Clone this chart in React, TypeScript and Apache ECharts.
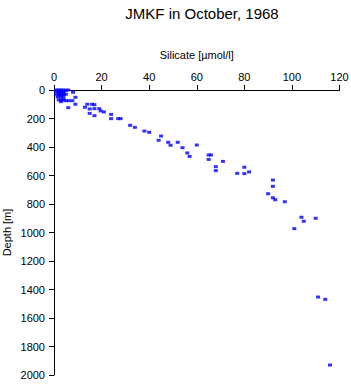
import React, { useEffect, useRef } from "react";
import * as echarts from "echarts";

const titleText = "JMKF in October, 1968";
const xName = "Silicate [µmol/l]";
const yName = "Depth [m]";

// silicate values [µmol/l]
const silicate: number[] = [
  1, 2, 3, 4, 5, 1, 2, 3, 4, 2, 3, 4, 1, 2, 3, 4, 5, 2, 3, 4, 1.5, 3, 4, 2, 3, 4, 5, 6, 8, 9, 7.7, 6.2, 9, 6, 3,
  14, 13, 16, 17, 15, 15, 17, 17, 19, 19.6, 21, 24, 24, 27, 28, 32, 34, 38, 40,
  45, 44, 48, 49, 52, 54, 56, 57, 60, 65, 66, 65, 68, 68, 71, 77, 80, 80, 82,
  92, 92, 90, 92, 93, 97, 104, 105, 110, 101, 111, 114, 116,
];
// depth values [m]
const depth: number[] = [
  0, 0, 0, 0, 2, 10, 10, 10, 10, 20, 20, 20, 30, 30, 30, 30, 30, 40, 40, 40, 50, 50, 60, 70, 70, 70, 75, 0, 16, 51, 75, 75, 100, 124, 82,
  100, 121, 100, 103, 133, 164, 131, 180, 131, 147, 154, 171, 201, 201, 201, 248, 262, 288, 297,
  323, 353, 367, 388, 367, 405, 442, 466, 386, 456, 456, 487, 538, 566, 501, 585, 542, 587, 575,
  632, 676, 728, 756, 770, 784, 893, 921, 900, 973, 1453, 1469, 1930,
];

const xTicks = { min: 0, max: 120, interval: 20 };
const yTicks = { min: 0, max: 2000, interval: 200 };

export default function App() {
  const ref = useRef<HTMLDivElement>(null);
  useEffect(() => {
    document.body.style.margin = "0";
    const chart = echarts.init(ref.current!, null, { renderer: "svg" });
    const font = "'Liberation Sans', Arial, Helvetica, sans-serif";
    const data = silicate.map((v, i) => [v, depth[i]]);
    chart.setOption({
      animation: false,
      backgroundColor: "#ffffff",
      title: {
        text: titleText,
        left: 197,
        top: 1,
        textAlign: "center",
        textStyle: { fontFamily: font, fontSize: 15, fontWeight: "normal", color: "#000" },
      },
      grid: { left: 54, top: 90, width: 285.5, height: 285, containLabel: false, outerBoundsMode: "none" },
      xAxis: {
        type: "value",
        position: "top",
        min: xTicks.min,
        max: xTicks.max,
        interval: xTicks.interval,
        name: xName,
        nameLocation: "middle",
        nameGap: 30,
        nameMoveOverlap: false,
        nameTextStyle: { fontFamily: font, fontSize: 11, color: "#000" },
        axisLine: { show: true, onZero: false, lineStyle: { color: "#000", width: 1 } },
        axisTick: { show: true, length: 5, lineStyle: { color: "#000" } },
        axisLabel: { fontFamily: font, fontSize: 11, color: "#000", margin: 8, formatter: (v: number) => String(v) },
        splitLine: { show: false },
      },
      yAxis: {
        type: "value",
        inverse: true,
        min: yTicks.min,
        max: yTicks.max,
        interval: yTicks.interval,
        name: yName,
        nameLocation: "middle",
        nameGap: 42,
        nameMoveOverlap: false,
        nameTextStyle: { fontFamily: font, fontSize: 11, color: "#000" },
        axisLine: { show: true, onZero: false, lineStyle: { color: "#000", width: 1 } },
        axisTick: { show: true, length: 5, lineStyle: { color: "#000" } },
        axisLabel: { fontFamily: font, fontSize: 11, color: "#000", margin: 9, formatter: (v: number) => String(v) },
        splitLine: { show: false },
      },
      series: [
        {
          type: "scatter",
          data,
          symbol: "rect",
          symbolSize: [4, 3],
          itemStyle: { color: "#0000ff" },
        },
      ],
    });
    return () => chart.dispose();
  }, []);
  return <div ref={ref} style={{ width: 351, height: 384 }} />;
}
